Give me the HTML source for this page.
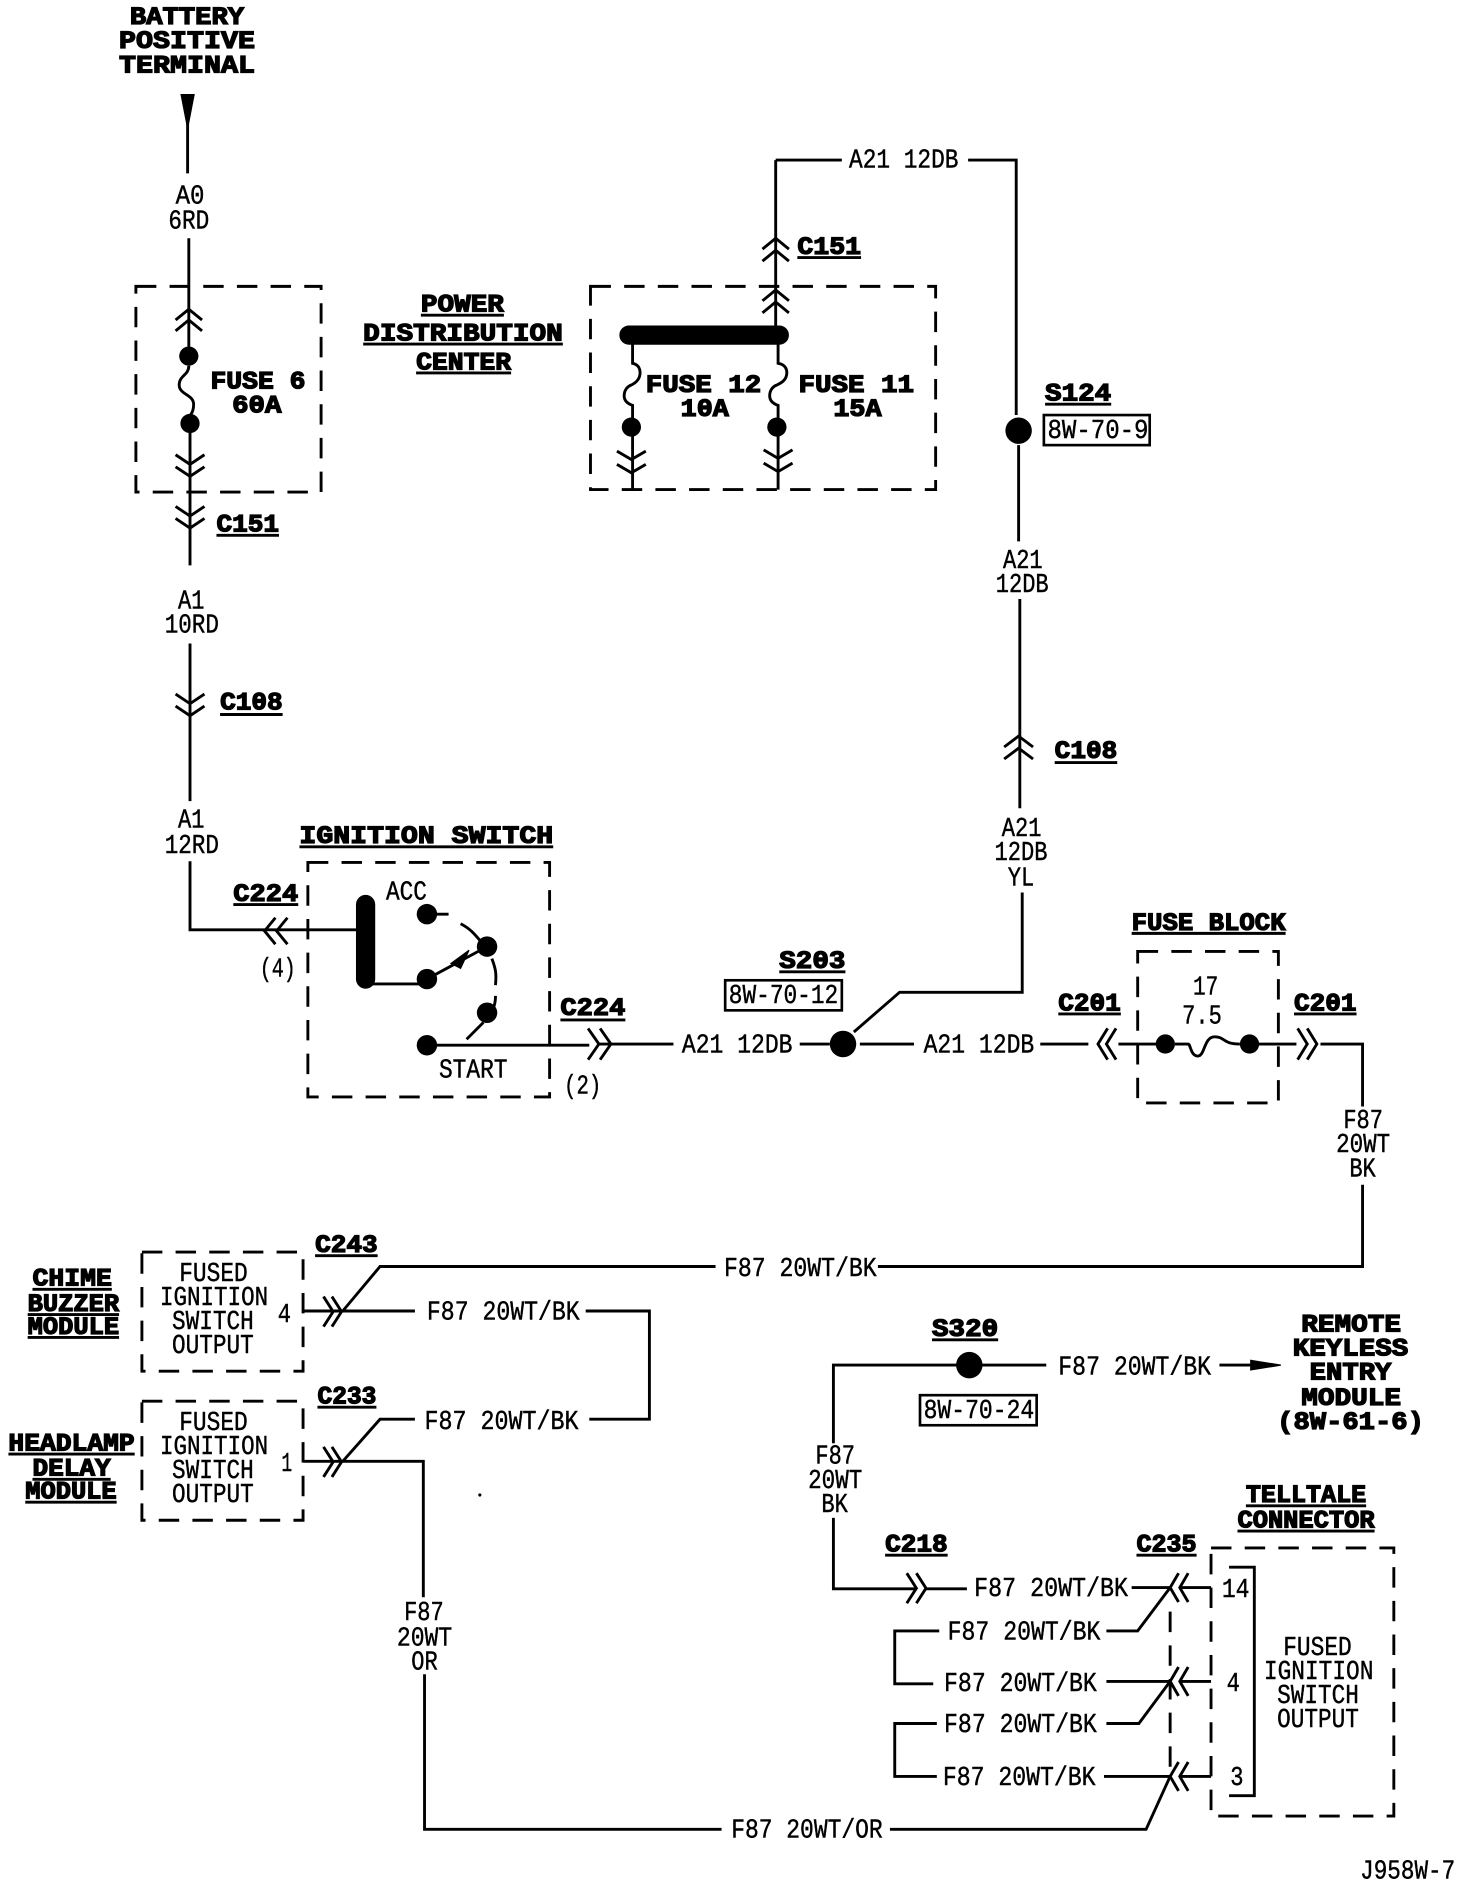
<!DOCTYPE html>
<html><head><meta charset="utf-8"><style>
html,body{margin:0;padding:0;background:#fff}
svg{display:block}
text{font-family:"Liberation Mono",monospace;font-size:22px;fill:#000;stroke:#000;stroke-width:.35px;white-space:pre}
text.b{font-size:21px;font-weight:bold;stroke:#000;stroke-width:1.1px}
.w{fill:none;stroke:#000;stroke-width:2.4}
.d{fill:none;stroke:#000;stroke-width:2.4;stroke-dasharray:17 11}
.c{fill:none;stroke:#000;stroke-width:2.4}
</style></head><body>
<svg width="1472" height="1886" viewBox="0 0 1224 1568" xmlns="http://www.w3.org/2000/svg">
<rect width="1224" height="1568" fill="#fff"/>
<rect class="d" x="113" y="238" width="154" height="171"/>
<rect class="d" x="491" y="238" width="287" height="169"/>
<rect class="d" x="256" y="717" width="201" height="195"/>
<rect class="d" x="946" y="791" width="117" height="126"/>
<rect class="d" x="118" y="1041" width="134" height="99"/>
<rect class="d" x="118" y="1165" width="134" height="99"/>
<rect class="d" x="1007" y="1287" width="152" height="223"/>
<path class="d" d="M973 1340V1470"/>

<!-- left column -->
<path d="M150 78h12l-5 26h-2z"/>
<path class="w" d="M156 100V144M157 198V288M158 358V470M158 535V666M158 716V773H296"/>
<path class="w" d="M157 304c0 8-8 8-8 16s12 8 12 16-3 8-3 10"/>
<circle cx="157" cy="296" r="8"/><circle cx="158" cy="352" r="8"/>
<path class="c" d="M146 266l11-9 11 9M146 275l11-9 11 9M146 378l12 8 12-8M146 388l12 8 12-8M146 421l12 8 12-8M146 431l12 8 12-8M146 577l12 8 12-8M146 587l12 8 12-8"/>

<!-- PDC -->
<path class="w" d="M645 133H700M805 133H845V345M645 133V278M526 360V407M647 360V407"/>
<path class="w" d="M526 286V302c5 1 7 5 6 10s-5 7-7 8c-3 1-6 4-6 9s4 7 7 8V348M647 286V302c6 1 8 5 7 10s-6 7-8 8c-3 1-6 4-6 9s4 7 7 8V348"/>
<path d="M523 271H648a7 7 0 0 1 0 15H523a7 7 0 0 1 0-15z" stroke="#000" stroke-width="1"/>
<circle cx="525" cy="355" r="8"/><circle cx="646" cy="355" r="8"/>
<path class="c" d="M634 207l11-9 11 9M634 217l11-9 11 9M634 250l11-9 11 9M634 260l11-9 11 9M513 375l12 7 12-7M513 386l12 7 12-7M635 374l12 7 12-7M635 385l12 7 12-7"/>
<circle cx="847" cy="358" r="11"/>
<path class="w" d="M847 370V450M848 498V672M850 742V825H748L710 858"/>
<path class="c" d="M835 621l12-9 12 9M835 631l12-9 12 9"/>
<rect x="868" y="345" width="88" height="25" fill="none" stroke="#000" stroke-width="2.2"/>

<!-- ignition -->
<path d="M296 752a8 8 0 0 1 16 0V814a8 8 0 0 1-16 0z"/>
<path class="w" d="M304 818H355M355 814L405 787M355 869H490M498 868H560M665 868H690M715 868H760M865 868H905M930 868H969M1039 868H1078M1098 868H1133V920M1133 985V1053H730M595 1053H316L285 1090"/>
<path class="w" d="M355 760h18M383 768c8 4 12 9 17 15M409 797c3 8 4 12 3 22M412 828c0 6-1 9-4 14M402 850l-14 14"/>
<path d="M375 801l15-11 -7 15z" stroke="#000"/>
<circle cx="355" cy="760" r="8.5"/><circle cx="405" cy="787" r="8.5"/><circle cx="355" cy="814" r="8.5"/><circle cx="405" cy="842" r="8.5"/><circle cx="355" cy="869" r="8.5"/>
<path class="c" d="M239 763l-9 11 9 11M229 763l-9 11 9 11M489 855l9 13-9 13M499 855l9 13-9 13"/>
<circle cx="701" cy="868" r="11"/>
<circle cx="969" cy="868" r="8"/><circle cx="1039" cy="868" r="8"/>
<path class="w" d="M977 868H988c2 0 2 10 8 10s5-16 14-16 6 6 21 6"/>
<path class="c" d="M921 855l-8 13 8 13M928 855l-8 13 8 13M1079 855l8 13-8 13M1087 855l8 13-8 13"/>
<rect x="603" y="815" width="97" height="25" fill="none" stroke="#000" stroke-width="2.2"/>

<!-- modules -->
<path class="w" d="M252 1090H345M487 1090H540V1180H490M345 1180H316L285 1215M252 1215H352V1328M353 1392V1521H600M740 1521H953L973 1477"/>
<path class="c" d="M269 1078l8 12.500-8 12.500M276 1078l8 12.500-8 12.500M269 1203l8 12.500-8 12.500M276 1203l8 12.500-8 12.500"/>

<!-- S320 -->
<circle cx="806" cy="1135" r="11"/>
<path class="w" d="M806 1135H693V1200M693 1262V1321H762M770 1321H804M806 1135H870M1014 1135H1040"/>
<path d="M1040 1131l25 4-25 4z" stroke="#000"/>
<path class="c" d="M754 1308l8 12.500-8 12.500M762 1308l8 12.500-8 12.500"/>
<rect x="765" y="1160" width="97" height="25" fill="none" stroke="#000" stroke-width="2.2"/>

<!-- telltale -->
<path class="w" d="M941 1320H973M981 1320H1007M920 1356H946L973 1320M781 1356H744V1400H776M920 1398H973M981 1398H1007M920 1433H947L973 1398M779 1433H744V1477H779M918 1477H973M981 1477H1007"/>
<path class="w" d="M1022 1303H1043V1493H1022"/>
<path class="c" d="M980 1308l-7 12 7 12M988 1308l-7 12 7 12M980 1386l-7 12 7 12M988 1386l-7 12 7 12M980 1465l-7 12 7 12M988 1465l-7 12 7 12"/>

<!-- bold labels -->
<text class="b" x="108" y="20" textLength="95" lengthAdjust="spacingAndGlyphs">BATTERY</text>
<text class="b" x="99" y="40" textLength="113" lengthAdjust="spacingAndGlyphs">POSITIVE</text>
<text class="b" x="99" y="60" textLength="113" lengthAdjust="spacingAndGlyphs">TERMINAL</text>
<text class="b" x="175" y="323" textLength="79" lengthAdjust="spacingAndGlyphs">FUSE 6</text>
<text class="b" x="193" y="343" textLength="41" lengthAdjust="spacingAndGlyphs">60A</text>
<text class="b" x="350" y="259" textLength="69" lengthAdjust="spacingAndGlyphs">POWER</text>
<text class="b" x="302" y="283" textLength="166" lengthAdjust="spacingAndGlyphs">DISTRIBUTION</text>
<text class="b" x="346" y="307" textLength="79" lengthAdjust="spacingAndGlyphs">CENTER</text>
<path class="w" d="M350 262H419M302 286H468M346 310H425"/>
<text class="b" x="537" y="326" textLength="96" lengthAdjust="spacingAndGlyphs">FUSE 12</text>
<text class="b" x="566" y="346" textLength="40" lengthAdjust="spacingAndGlyphs">10A</text>
<text class="b" x="664" y="326" textLength="96" lengthAdjust="spacingAndGlyphs">FUSE 11</text>
<text class="b" x="693" y="346" textLength="40" lengthAdjust="spacingAndGlyphs">15A</text>
<text class="b" x="180" y="442" textLength="52" lengthAdjust="spacingAndGlyphs">C151</text>
<text class="b" x="663" y="211" textLength="53" lengthAdjust="spacingAndGlyphs">C151</text>
<text class="b" x="183" y="590" textLength="52" lengthAdjust="spacingAndGlyphs">C108</text>
<text class="b" x="877" y="630" textLength="52" lengthAdjust="spacingAndGlyphs">C108</text>
<text class="b" x="869" y="333" textLength="55" lengthAdjust="spacingAndGlyphs">S124</text>
<text class="b" x="249" y="701" textLength="211" lengthAdjust="spacingAndGlyphs">IGNITION SWITCH</text>
<text class="b" x="194" y="749" textLength="54" lengthAdjust="spacingAndGlyphs">C224</text>
<text class="b" x="466" y="844" textLength="54" lengthAdjust="spacingAndGlyphs">C224</text>
<text class="b" x="648" y="805" textLength="55" lengthAdjust="spacingAndGlyphs">S203</text>
<text class="b" x="941" y="773" textLength="128" lengthAdjust="spacingAndGlyphs">FUSE BLOCK</text>
<text class="b" x="880" y="840" textLength="52" lengthAdjust="spacingAndGlyphs">C201</text>
<text class="b" x="1076" y="840" textLength="52" lengthAdjust="spacingAndGlyphs">C201</text>
<text class="b" x="262" y="1041" textLength="52" lengthAdjust="spacingAndGlyphs">C243</text>
<text class="b" x="264" y="1167" textLength="49" lengthAdjust="spacingAndGlyphs">C233</text>
<text class="b" x="27" y="1069" textLength="66" lengthAdjust="spacingAndGlyphs">CHIME</text>
<text class="b" x="23" y="1090" textLength="76" lengthAdjust="spacingAndGlyphs">BUZZER</text>
<text class="b" x="23" y="1109" textLength="76" lengthAdjust="spacingAndGlyphs">MODULE</text>
<text class="b" x="7" y="1206" textLength="105" lengthAdjust="spacingAndGlyphs">HEADLAMP</text>
<text class="b" x="27" y="1227" textLength="65" lengthAdjust="spacingAndGlyphs">DELAY</text>
<text class="b" x="21" y="1246" textLength="76" lengthAdjust="spacingAndGlyphs">MODULE</text>
<text class="b" x="775" y="1111" textLength="55" lengthAdjust="spacingAndGlyphs">S320</text>
<text class="b" x="1082" y="1107" textLength="83" lengthAdjust="spacingAndGlyphs">REMOTE</text>
<text class="b" x="1075" y="1127" textLength="96" lengthAdjust="spacingAndGlyphs">KEYLESS</text>
<text class="b" x="1089" y="1147" textLength="68" lengthAdjust="spacingAndGlyphs">ENTRY</text>
<text class="b" x="1082" y="1168" textLength="83" lengthAdjust="spacingAndGlyphs">MODULE</text>
<text class="b" x="1062" y="1188" textLength="122" lengthAdjust="spacingAndGlyphs">(8W-61-6)</text>
<text class="b" x="736" y="1290" textLength="52" lengthAdjust="spacingAndGlyphs">C218</text>
<text class="b" x="945" y="1290" textLength="50" lengthAdjust="spacingAndGlyphs">C235</text>
<text class="b" x="1036" y="1249" textLength="100" lengthAdjust="spacingAndGlyphs">TELLTALE</text>
<text class="b" x="1029" y="1270" textLength="114" lengthAdjust="spacingAndGlyphs">CONNECTOR</text>
<path class="w" d="M180 445H232M663 214H716M183 594H235M877 634H929M869 336H924M249 704H460M194 752H248M466 848H520M648 808H703M941 776H1069M880 843H932M1076 843H1128M262 1044H314M264 1170H313M27 1072H93M23 1093H99M23 1112H99M7 1209H112M27 1230H92M21 1249H97M775 1114H830M736 1293H788M945 1293H995M1036 1252H1136M1029 1273H1143"/>

<!-- regular labels -->
<text x="146" y="169" textLength="24" lengthAdjust="spacingAndGlyphs">A0</text>
<text x="140" y="190" textLength="34" lengthAdjust="spacingAndGlyphs">6RD</text>
<text x="148" y="506" textLength="22" lengthAdjust="spacingAndGlyphs">A1</text>
<text x="137" y="526" textLength="45" lengthAdjust="spacingAndGlyphs">10RD</text>
<text x="148" y="688" textLength="22" lengthAdjust="spacingAndGlyphs">A1</text>
<text x="137" y="709" textLength="45" lengthAdjust="spacingAndGlyphs">12RD</text>
<text x="706" y="139" textLength="91" lengthAdjust="spacingAndGlyphs">A21 12DB</text>
<text x="871" y="364" textLength="84" lengthAdjust="spacingAndGlyphs">8W-70-9</text>
<text x="834" y="472" textLength="33" lengthAdjust="spacingAndGlyphs">A21</text>
<text x="828" y="492" textLength="44" lengthAdjust="spacingAndGlyphs">12DB</text>
<text x="833" y="695" textLength="33" lengthAdjust="spacingAndGlyphs">A21</text>
<text x="827" y="715" textLength="44" lengthAdjust="spacingAndGlyphs">12DB</text>
<text x="838" y="736" textLength="22" lengthAdjust="spacingAndGlyphs">YL</text>
<text x="321" y="748" textLength="34" lengthAdjust="spacingAndGlyphs">ACC</text>
<text x="365" y="896" textLength="57" lengthAdjust="spacingAndGlyphs">START</text>
<text x="216" y="812" textLength="30" lengthAdjust="spacingAndGlyphs">(4)</text>
<text x="469" y="909" textLength="31" lengthAdjust="spacingAndGlyphs">(2)</text>
<text x="567" y="875" textLength="92" lengthAdjust="spacingAndGlyphs">A21 12DB</text>
<text x="768" y="875" textLength="92" lengthAdjust="spacingAndGlyphs">A21 12DB</text>
<text x="606" y="834" textLength="91" lengthAdjust="spacingAndGlyphs">8W-70-12</text>
<text x="992" y="827" textLength="21" lengthAdjust="spacingAndGlyphs">17</text>
<text x="983" y="851" textLength="33" lengthAdjust="spacingAndGlyphs">7.5</text>
<text x="1117" y="938" textLength="33" lengthAdjust="spacingAndGlyphs">F87</text>
<text x="1111" y="958" textLength="45" lengthAdjust="spacingAndGlyphs">20WT</text>
<text x="1122" y="978" textLength="22" lengthAdjust="spacingAndGlyphs">BK</text>
<text x="602" y="1061" textLength="127" lengthAdjust="spacingAndGlyphs">F87 20WT/BK</text>
<text x="149" y="1065" textLength="57" lengthAdjust="spacingAndGlyphs">FUSED</text>
<text x="133" y="1085" textLength="90" lengthAdjust="spacingAndGlyphs">IGNITION</text>
<text x="143" y="1105" textLength="68" lengthAdjust="spacingAndGlyphs">SWITCH</text>
<text x="143" y="1125" textLength="68" lengthAdjust="spacingAndGlyphs">OUTPUT</text>
<text x="231" y="1099" textLength="11" lengthAdjust="spacingAndGlyphs">4</text>
<text x="355" y="1097" textLength="127" lengthAdjust="spacingAndGlyphs">F87 20WT/BK</text>
<text x="353" y="1188" textLength="128" lengthAdjust="spacingAndGlyphs">F87 20WT/BK</text>
<text x="149" y="1189" textLength="57" lengthAdjust="spacingAndGlyphs">FUSED</text>
<text x="133" y="1209" textLength="90" lengthAdjust="spacingAndGlyphs">IGNITION</text>
<text x="143" y="1229" textLength="68" lengthAdjust="spacingAndGlyphs">SWITCH</text>
<text x="143" y="1249" textLength="68" lengthAdjust="spacingAndGlyphs">OUTPUT</text>
<text x="234" y="1223" textLength="9" lengthAdjust="spacingAndGlyphs">1</text>
<text x="336" y="1347" textLength="33" lengthAdjust="spacingAndGlyphs">F87</text>
<text x="330" y="1368" textLength="46" lengthAdjust="spacingAndGlyphs">20WT</text>
<text x="342" y="1388" textLength="22" lengthAdjust="spacingAndGlyphs">OR</text>
<text x="880" y="1143" textLength="127" lengthAdjust="spacingAndGlyphs">F87 20WT/BK</text>
<text x="768" y="1179" textLength="92" lengthAdjust="spacingAndGlyphs">8W-70-24</text>
<text x="678" y="1217" textLength="33" lengthAdjust="spacingAndGlyphs">F87</text>
<text x="672" y="1237" textLength="45" lengthAdjust="spacingAndGlyphs">20WT</text>
<text x="683" y="1257" textLength="22" lengthAdjust="spacingAndGlyphs">BK</text>
<text x="810" y="1327" textLength="128" lengthAdjust="spacingAndGlyphs">F87 20WT/BK</text>
<text x="788" y="1363" textLength="127" lengthAdjust="spacingAndGlyphs">F87 20WT/BK</text>
<text x="785" y="1406" textLength="127" lengthAdjust="spacingAndGlyphs">F87 20WT/BK</text>
<text x="785" y="1440" textLength="127" lengthAdjust="spacingAndGlyphs">F87 20WT/BK</text>
<text x="784" y="1484" textLength="127" lengthAdjust="spacingAndGlyphs">F87 20WT/BK</text>
<text x="608" y="1528" textLength="126" lengthAdjust="spacingAndGlyphs">F87 20WT/OR</text>
<text x="1016" y="1328" textLength="23" lengthAdjust="spacingAndGlyphs">14</text>
<text x="1020" y="1406" textLength="11" lengthAdjust="spacingAndGlyphs">4</text>
<text x="1023" y="1484" textLength="11" lengthAdjust="spacingAndGlyphs">3</text>
<text x="1067" y="1376" textLength="57" lengthAdjust="spacingAndGlyphs">FUSED</text>
<text x="1051" y="1396" textLength="91" lengthAdjust="spacingAndGlyphs">IGNITION</text>
<text x="1062" y="1416" textLength="68" lengthAdjust="spacingAndGlyphs">SWITCH</text>
<text x="1062" y="1436" textLength="68" lengthAdjust="spacingAndGlyphs">OUTPUT</text>
<text x="1131" y="1562" textLength="79" lengthAdjust="spacingAndGlyphs">J958W-7</text>
<circle cx="399" cy="1243" r="1.3"/>
</svg>
</body></html>
